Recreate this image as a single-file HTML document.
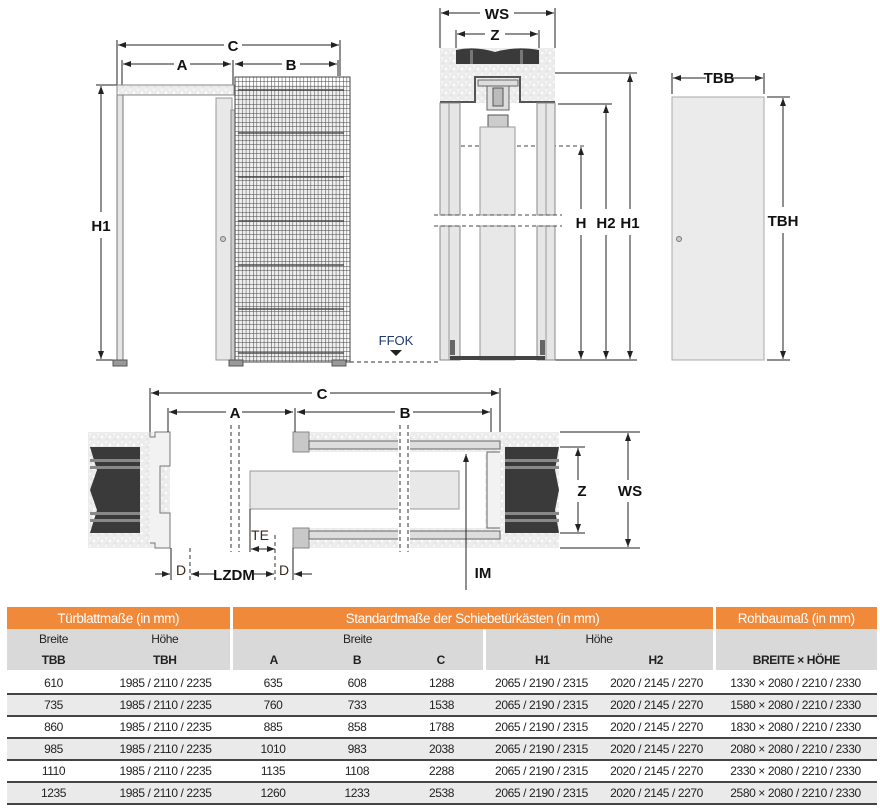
<!DOCTYPE html>
<html><head><meta charset="utf-8">
<style>
body{margin:0;background:#fff;width:880px;height:812px;overflow:hidden;font-family:"Liberation Sans",sans-serif;}
svg{position:absolute;left:0;top:0}
table{position:absolute;left:7px;top:607px;width:870px;border-collapse:collapse;font-family:"Liberation Sans",sans-serif;font-size:12px;color:#222;table-layout:fixed}
td{text-align:center;padding:0;height:22px;white-space:nowrap;letter-spacing:-0.4px}
tr.h td{background:#f0893a;color:#fff;font-size:13.5px;height:22px;border-right:3px solid #fff}
tr.s td{background:#d9d9d9;height:20px}
tr.s2 td{background:#d9d9d9;height:21px;font-weight:bold;border-bottom:3px solid #fff}
tr.d td{border-bottom:2px solid #444;height:20px}
tr.g td{background:#eaeaea}
.sep{border-right:3px solid #fff}
</style></head><body>
<svg width="880" height="600" viewBox="0 0 880 600" font-family="Liberation Sans, sans-serif">
<defs>
<pattern id="mesh" x="235" y="77" width="3.6" height="4.5" patternUnits="userSpaceOnUse">
<path d="M0 0V4.5M0 0H3.6" stroke="#444" stroke-width="1" fill="none"/>
</pattern>
<pattern id="conc" width="8" height="8" patternUnits="userSpaceOnUse">
<rect width="8" height="8" fill="#ececec"/><circle cx="2" cy="2" r="1" fill="#fafafa"/><circle cx="6" cy="5" r="1.2" fill="#fff"/><circle cx="3" cy="7" r="0.7" fill="#d8d8d8"/>
</pattern>
<marker id="ar" viewBox="0 0 8 6" refX="8" refY="3" markerWidth="8" markerHeight="6" orient="auto-start-reverse"><path d="M0 0L8 3L0 6z" fill="#222"/></marker>
</defs>
<g stroke="#222" stroke-width="1" fill="none">
<line x1="117" y1="40" x2="117" y2="85"/><line x1="340" y1="40" x2="340" y2="76"/>
<line x1="122" y1="60" x2="122" y2="85"/><line x1="233" y1="60" x2="233" y2="85"/><line x1="338" y1="60" x2="338" y2="76"/>
<line x1="118" y1="45" x2="224" y2="45" marker-start="url(#ar)"/><line x1="242" y1="45" x2="339" y2="45" marker-end="url(#ar)"/>
<line x1="123" y1="64" x2="174" y2="64" marker-start="url(#ar)"/><line x1="190" y1="64" x2="231" y2="64" marker-end="url(#ar)"/>
<line x1="235" y1="64" x2="282" y2="64" marker-start="url(#ar)"/><line x1="300" y1="64" x2="337" y2="64" marker-end="url(#ar)"/>
<line x1="96" y1="85" x2="117" y2="85"/><line x1="96" y1="360" x2="117" y2="360"/>
<line x1="101" y1="86" x2="101" y2="212" marker-start="url(#ar)"/><line x1="101" y1="238" x2="101" y2="359" marker-end="url(#ar)"/>
</g>
<g font-weight="bold" font-size="15" fill="#111" text-anchor="middle">
<text x="233" y="51">C</text><text x="182" y="70">A</text><text x="291" y="70">B</text><text x="101" y="231">H1</text>
</g>
<rect x="117" y="85" width="6" height="275" fill="#e6e6e6" stroke="#777"/>
<rect x="117" y="85" width="117" height="10" fill="url(#conc)" stroke="#888"/>
<rect x="113" y="360" width="14" height="6" fill="#999" stroke="#555"/>
<rect x="216" y="98" width="16" height="262" fill="#e8e8e8" stroke="#999"/>
<circle cx="223" cy="239" r="2.5" fill="#ccc" stroke="#777"/>
<rect x="231" y="110" width="4" height="250" fill="#ccc" stroke="#888"/>
<rect x="237" y="85" width="108" height="275" fill="#eee"/>
<g fill="#777">
<rect x="238" y="89" width="106" height="2"/><rect x="238" y="132" width="106" height="2"/><rect x="238" y="176" width="106" height="2"/><rect x="238" y="220" width="106" height="2"/><rect x="238" y="264" width="106" height="2"/><rect x="238" y="308" width="106" height="2"/><rect x="238" y="352" width="106" height="2"/>
</g>
<rect x="235" y="77" width="115" height="285" fill="url(#mesh)" stroke="#444" stroke-width="1"/>
<rect x="229" y="360" width="14" height="6" fill="#999" stroke="#555"/>
<rect x="332" y="360" width="14" height="6" fill="#999" stroke="#555"/>
<line x1="350" y1="362" x2="440" y2="362" stroke="#333" stroke-dasharray="4,3"/>
<text x="396" y="345" font-size="13" fill="#1f3a6e" text-anchor="middle">FFOK</text>
<path d="M390 350h12l-6 6z" fill="#222"/>
<g stroke="#222" fill="none">
<line x1="440" y1="8" x2="440" y2="48"/><line x1="555" y1="8" x2="555" y2="48"/>
<line x1="456" y1="30" x2="456" y2="48"/><line x1="539" y1="30" x2="539" y2="48"/>
<line x1="441" y1="13" x2="480" y2="13" marker-start="url(#ar)"/><line x1="514" y1="13" x2="554" y2="13" marker-end="url(#ar)"/>
<line x1="457" y1="34" x2="485" y2="34" marker-start="url(#ar)"/><line x1="505" y1="34" x2="538" y2="34" marker-end="url(#ar)"/>
<line x1="500" y1="73" x2="637" y2="73"/><line x1="558" y1="104" x2="612" y2="104"/>
<line x1="555" y1="360" x2="637" y2="360"/>
<line x1="630" y1="74" x2="630" y2="209" marker-start="url(#ar)"/><line x1="630" y1="235" x2="630" y2="359" marker-end="url(#ar)"/>
<line x1="606" y1="105" x2="606" y2="209" marker-start="url(#ar)"/><line x1="606" y1="235" x2="606" y2="359" marker-end="url(#ar)"/>
<line x1="581" y1="147" x2="581" y2="209" marker-start="url(#ar)"/><line x1="581" y1="235" x2="581" y2="359" marker-end="url(#ar)"/>
</g>
<line x1="440" y1="146" x2="585" y2="146" stroke="#444" stroke-dasharray="4,3"/>
<g font-weight="bold" font-size="15" fill="#111" text-anchor="middle">
<text x="497" y="19">WS</text><text x="495" y="40">Z</text>
<text x="581" y="228">H</text><text x="606" y="228">H2</text><text x="630" y="228">H1</text>
</g>
<rect x="440" y="48" width="115" height="55" fill="url(#conc)"/>
<path d="M456 50 Q475 46 495 52 Q515 46 539 50 V64 H456z" fill="#3a3a3a"/>
<rect x="470" y="50" width="3" height="14" fill="#777"/><rect x="520" y="50" width="3" height="14" fill="#777"/>
<path d="M440 102 H475 V77 H520 V102 H555" stroke="#555" stroke-width="2" fill="none"/>
<rect x="478" y="80" width="40" height="6" fill="#ddd" stroke="#666"/>
<rect x="487" y="86" width="22" height="24" fill="#ddd" stroke="#666"/>
<rect x="493" y="88" width="10" height="18" fill="#bbb" stroke="#555"/>
<rect x="488" y="115" width="20" height="12" fill="#ccc" stroke="#555"/>
<rect x="440" y="103" width="20" height="112" fill="#e6e6e6" stroke="#888"/><line x1="449" y1="103" x2="449" y2="215" stroke="#999"/>
<rect x="537" y="103" width="18" height="112" fill="#e6e6e6" stroke="#888"/><line x1="546" y1="103" x2="546" y2="215" stroke="#999"/>
<rect x="440" y="226" width="20" height="134" fill="#e6e6e6" stroke="#888"/><line x1="449" y1="226" x2="449" y2="360" stroke="#999"/>
<rect x="537" y="226" width="18" height="134" fill="#e6e6e6" stroke="#888"/><line x1="546" y1="226" x2="546" y2="360" stroke="#999"/>
<rect x="480" y="127" width="35" height="88" fill="#e8e8e8" stroke="#999"/>
<rect x="480" y="226" width="35" height="134" fill="#e8e8e8" stroke="#999"/>
<line x1="434" y1="215" x2="562" y2="215" stroke="#444" stroke-dasharray="4,3"/>
<line x1="434" y1="226" x2="562" y2="226" stroke="#444" stroke-dasharray="4,3"/>
<rect x="450" y="340" width="5" height="15" fill="#666"/><rect x="540" y="340" width="5" height="15" fill="#666"/>
<rect x="450" y="356" width="95" height="4" fill="#444"/>
<g stroke="#222" fill="none">
<line x1="672" y1="73" x2="672" y2="94"/><line x1="764" y1="73" x2="764" y2="94"/>
<line x1="673" y1="78" x2="706" y2="78" marker-start="url(#ar)"/><line x1="731" y1="78" x2="763" y2="78" marker-end="url(#ar)"/>
<line x1="767" y1="97" x2="790" y2="97"/><line x1="767" y1="360" x2="790" y2="360"/>
<line x1="783" y1="98" x2="783" y2="207" marker-start="url(#ar)"/><line x1="783" y1="233" x2="783" y2="359" marker-end="url(#ar)"/>
</g>
<rect x="672" y="97" width="92" height="263" fill="#ebebeb" stroke="#aaa"/>
<circle cx="679" cy="239" r="2.5" fill="#ccc" stroke="#777"/>
<g font-weight="bold" font-size="15" fill="#111" text-anchor="middle">
<text x="719" y="83">TBB</text><text x="783" y="226">TBH</text>
</g>
<rect x="88" y="432" width="82" height="116" fill="url(#conc)"/>
<path d="M90 447 H140 V533 H90 L97 510 L90 490 L97 470z" fill="#3a3a3a"/>
<rect x="90" y="459" width="50" height="3" fill="#888"/><rect x="90" y="466" width="50" height="3" fill="#888"/>
<rect x="90" y="512" width="50" height="3" fill="#888"/><rect x="90" y="519" width="50" height="3" fill="#888"/>
<path d="M150 432 V437 H155 V432 H170 V466 H160 V513 H170 V548 H155 V543 H150" fill="#f2f2f2" stroke="#777"/>
<rect x="293" y="432" width="266" height="20" fill="url(#conc)"/>
<rect x="293" y="528" width="266" height="20" fill="url(#conc)"/>
<rect x="485" y="432" width="74" height="116" fill="url(#conc)"/>
<path d="M505 447 H559 L555 470 L559 490 L555 510 L559 533 H505z" fill="#3a3a3a"/>
<rect x="505" y="459" width="54" height="3" fill="#888"/><rect x="505" y="466" width="54" height="3" fill="#888"/>
<rect x="505" y="512" width="54" height="3" fill="#888"/><rect x="505" y="519" width="54" height="3" fill="#888"/>
<rect x="293" y="432" width="16" height="20" fill="#c8c8c8" stroke="#888"/>
<rect x="293" y="528" width="16" height="20" fill="#c8c8c8" stroke="#888"/>
<rect x="309" y="441" width="191" height="8" fill="#ddd" stroke="#666"/>
<rect x="309" y="531" width="191" height="8" fill="#ddd" stroke="#666"/>
<path d="M500 452 H487 V528 H500" fill="#f2f2f2" stroke="#666"/>
<rect x="250" y="471" width="209" height="38" fill="#e8e8e8" stroke="#999"/>
<rect x="398" y="425" width="12" height="127" fill="#fff"/>
<g stroke="#333" stroke-dasharray="4,3">
<line x1="231" y1="425" x2="231" y2="552"/><line x1="239" y1="425" x2="239" y2="552"/>
<line x1="400" y1="425" x2="400" y2="552"/><line x1="408" y1="425" x2="408" y2="552"/>
<line x1="190" y1="548" x2="190" y2="580"/><line x1="275" y1="535" x2="275" y2="580"/>
</g>
<g stroke="#222" fill="none">
<line x1="150" y1="388" x2="150" y2="432"/><line x1="500" y1="388" x2="500" y2="432"/>
<line x1="168" y1="408" x2="168" y2="432"/><line x1="295" y1="408" x2="295" y2="432"/><line x1="491" y1="408" x2="491" y2="432"/>
<line x1="151" y1="393" x2="312" y2="393" marker-start="url(#ar)"/><line x1="330" y1="393" x2="499" y2="393" marker-end="url(#ar)"/>
<line x1="169" y1="412" x2="226" y2="412" marker-start="url(#ar)"/><line x1="242" y1="412" x2="293" y2="412" marker-end="url(#ar)"/>
<line x1="297" y1="412" x2="395" y2="412" marker-start="url(#ar)"/><line x1="413" y1="412" x2="490" y2="412" marker-end="url(#ar)"/>
<line x1="560" y1="432" x2="640" y2="432"/><line x1="560" y1="548" x2="640" y2="548"/>
<line x1="560" y1="447" x2="585" y2="447"/><line x1="560" y1="533" x2="585" y2="533"/>
<line x1="578" y1="448" x2="578" y2="480" marker-start="url(#ar)"/><line x1="578" y1="502" x2="578" y2="532" marker-end="url(#ar)"/>
<line x1="628" y1="433" x2="628" y2="480" marker-start="url(#ar)"/><line x1="628" y1="502" x2="628" y2="547" marker-end="url(#ar)"/>
<line x1="466" y1="454" x2="466" y2="590" marker-start="url(#ar)"/>
<line x1="250" y1="509" x2="250" y2="552"/>
<line x1="251" y1="549" x2="275" y2="549" marker-start="url(#ar)" marker-end="url(#ar)"/>
<line x1="171" y1="548" x2="171" y2="580"/><line x1="293" y1="548" x2="293" y2="580"/>
<line x1="155" y1="574" x2="170" y2="574" marker-end="url(#ar)"/><line x1="191" y1="574" x2="215" y2="574" marker-start="url(#ar)"/>
<line x1="252" y1="574" x2="274" y2="574" marker-end="url(#ar)"/><line x1="294" y1="574" x2="312" y2="574" marker-start="url(#ar)"/>
</g>
<g font-weight="bold" font-size="15" fill="#111" text-anchor="middle">
<text x="322" y="399">C</text><text x="235" y="418">A</text><text x="405" y="418">B</text>
<text x="582" y="496">Z</text><text x="630" y="496">WS</text><text x="483" y="578">IM</text>
<text x="234" y="580">LZDM</text>
</g>
<g font-size="14" fill="#3a2a1a" text-anchor="middle">
<text x="181" y="575">D</text><text x="284" y="575">D</text><text x="260" y="540">TE</text>
</g>
</svg>
<table>
<colgroup><col style="width:93px"><col style="width:131px"><col style="width:84px"><col style="width:84px"><col style="width:85px"><col style="width:115px"><col style="width:115px"><col style="width:163px"></colgroup>
<tr class="h"><td colspan="2">Türblattmaße (in mm)</td><td colspan="5">Standardmaße der Schiebetürkästen (in mm)</td><td style="border-right:none">Rohbaumaß (in mm)</td></tr>
<tr class="s"><td>Breite</td><td class="sep">Höhe</td><td colspan="3" class="sep">Breite</td><td colspan="2" class="sep">Höhe</td><td></td></tr>
<tr class="s2"><td>TBB</td><td class="sep">TBH</td><td>A</td><td>B</td><td class="sep">C</td><td>H1</td><td class="sep">H2</td><td>BREITE × HÖHE</td></tr>
<tr class="d"><td>610</td><td>1985 / 2110 / 2235</td><td>635</td><td>608</td><td>1288</td><td>2065 / 2190 / 2315</td><td>2020 / 2145 / 2270</td><td>1330 × 2080 / 2210 / 2330</td></tr>
<tr class="d g"><td>735</td><td>1985 / 2110 / 2235</td><td>760</td><td>733</td><td>1538</td><td>2065 / 2190 / 2315</td><td>2020 / 2145 / 2270</td><td>1580 × 2080 / 2210 / 2330</td></tr>
<tr class="d"><td>860</td><td>1985 / 2110 / 2235</td><td>885</td><td>858</td><td>1788</td><td>2065 / 2190 / 2315</td><td>2020 / 2145 / 2270</td><td>1830 × 2080 / 2210 / 2330</td></tr>
<tr class="d g"><td>985</td><td>1985 / 2110 / 2235</td><td>1010</td><td>983</td><td>2038</td><td>2065 / 2190 / 2315</td><td>2020 / 2145 / 2270</td><td>2080 × 2080 / 2210 / 2330</td></tr>
<tr class="d"><td>1110</td><td>1985 / 2110 / 2235</td><td>1135</td><td>1108</td><td>2288</td><td>2065 / 2190 / 2315</td><td>2020 / 2145 / 2270</td><td>2330 × 2080 / 2210 / 2330</td></tr>
<tr class="d g"><td>1235</td><td>1985 / 2110 / 2235</td><td>1260</td><td>1233</td><td>2538</td><td>2065 / 2190 / 2315</td><td>2020 / 2145 / 2270</td><td>2580 × 2080 / 2210 / 2330</td></tr>
</table>
</body></html>
